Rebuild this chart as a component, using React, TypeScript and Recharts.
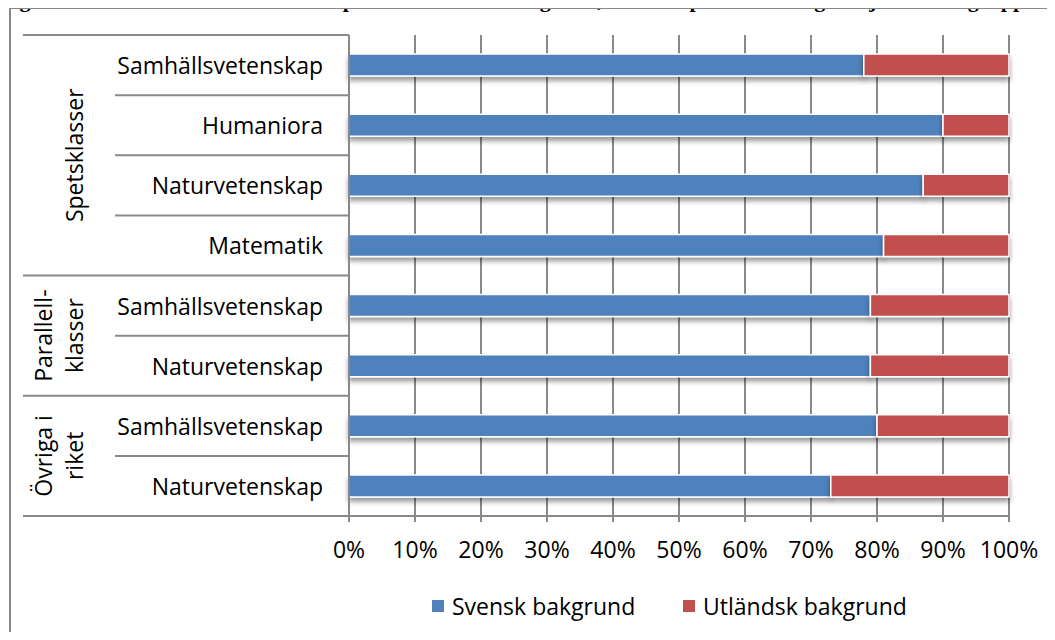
import { BarChart, Bar, XAxis, YAxis, CartesianGrid, Rectangle } from 'recharts';

// categories top to bottom, as in the figure
const categories = [
  'Samhällsvetenskap',
  'Humaniora',
  'Naturvetenskap',
  'Matematik',
  'Samhällsvetenskap',
  'Naturvetenskap',
  'Samhällsvetenskap',
  'Naturvetenskap',
];
const groupLabels = [['Spetsklasser'], ['Parallell-', 'klasser'], ['Övriga i', 'riket']];
const groupSizes = [4, 2, 2];
const svensk = [78, 90, 87, 81, 79, 79, 80, 73];
const utlandsk = [22, 10, 13, 19, 21, 21, 20, 27];
const xTicks = [0, 10, 20, 30, 40, 50, 60, 70, 80, 90, 100];
const seriesNames = ['Svensk bakgrund', 'Utländsk bakgrund'];
const title =
  'Figur 2. Andel elever med svensk respektive utländsk bakgrund, elever i spetsutbildning och jämförelsegrupper';

const BLUE = '#4F81BD';
const RED = '#C0504D';
const GRID = '#898989';
const FONT = '"Open Sans", sans-serif';

const W = 1055;
const H = 640;
const PLOT_LEFT = 349;
const PLOT_TOP = 35;
const PLOT_BOTTOM = 516;
const PLOT_RIGHT = 1009;
const Y_AXIS_W = 326;

const data = categories.map((name, i) => ({
  key: `c${i}`,
  name,
  svensk: svensk[i],
  utlandsk: utlandsk[i],
}));

// first row of each group
const groupStarts: number[] = [];
let acc = 0;
groupSizes.forEach((s) => {
  groupStarts.push(acc);
  acc += s;
});

const CategoryTick = (props: any) => {
  const { y, index } = props;
  const band = (PLOT_BOTTOM - PLOT_TOP) / categories.length;
  const top = y - band / 2;
  const gi = groupStarts.indexOf(index);
  const isLast = index === categories.length - 1;
  return (
    <g>
      <line x1={gi >= 0 ? 23 : 115} x2={PLOT_LEFT} y1={top} y2={top} stroke={GRID} strokeWidth={2} />
      {isLast && (
        <line x1={23} x2={PLOT_LEFT} y1={y + band / 2} y2={y + band / 2} stroke={GRID} strokeWidth={2} />
      )}
      <text x={323} y={y} textAnchor="end" dominantBaseline="central" fontSize={23} fontFamily={FONT} fill="#000">
        {categories[index]}
      </text>
      {gi >= 0 &&
        groupLabels[gi].map((line, li) => {
          const n = groupLabels[gi].length;
          const cx = 74 - (n - 1 - li) * 31;
          const cy = y + ((groupSizes[gi] - 1) * band) / 2;
          return (
            <text
              key={li}
              x={cx}
              y={cy}
              transform={`rotate(-90, ${cx}, ${cy})`}
              textAnchor="middle"
              dominantBaseline="central"
              fontSize={23}
              fontFamily={FONT}
              fill="#000"
            >
              {line}
            </text>
          );
        })}
    </g>
  );
};

const ShadowBar = (props: any) => <Rectangle {...props} filter="url(#barShadow)" />;

export default function App() {
  return (
    <div style={{ position: 'relative', width: W, height: H, margin: -8, overflow: 'hidden', background: '#fff' }}>
      <div
        style={{
          position: 'absolute',
          left: 0,
          top: -11,
          lineHeight: '22px',
          fontFamily: '"Liberation Serif", serif',
          fontWeight: 'bold',
          fontSize: 22,
          whiteSpace: 'nowrap',
        }}
      >
        {title}
      </div>
      <div
        style={{
          position: 'absolute',
          left: 9,
          top: 7,
          width: 1200,
          height: 800,
          border: `2px solid ${GRID}`,
        }}
      />
      <div style={{ position: 'absolute', left: 0, top: 0 }}>
        <BarChart
          width={W}
          height={H}
          data={data}
          layout="vertical"
          barSize={22}
          margin={{ top: PLOT_TOP, right: W - PLOT_RIGHT, bottom: H - PLOT_BOTTOM - 60, left: PLOT_LEFT - Y_AXIS_W }}
        >
          <defs>
            <filter id="barShadow" x="-5%" y="-30%" width="110%" height="190%">
              <feDropShadow dx="0" dy="4" stdDeviation="2.5" floodColor="#000" floodOpacity="0.4" />
            </filter>
          </defs>
          <CartesianGrid horizontal={false} stroke={GRID} strokeWidth={2} />
          <XAxis
            type="number"
            domain={[0, 100]}
            ticks={xTicks}
            tickFormatter={(v) => `${v}%`}
            height={60}
            axisLine={{ stroke: GRID, strokeWidth: 2 }}
            tickLine={{ stroke: GRID, strokeWidth: 2 }}
            tickSize={6}
            tickMargin={20}
            tick={{ fontSize: 23, fontFamily: FONT, fill: '#000' }}
            interval={0}
          />
          <YAxis
            type="category"
            dataKey="key"
            width={Y_AXIS_W}
            axisLine={{ stroke: GRID, strokeWidth: 2 }}
            tickLine={false}
            tick={<CategoryTick />}
            interval={0}
          />
          <Bar
            dataKey="svensk"
            name={seriesNames[0]}
            stackId="a"
            fill={BLUE}
            stroke="#fff"
            strokeWidth={1.5}
            shape={ShadowBar}
            isAnimationActive={false}
          />
          <Bar
            dataKey="utlandsk"
            name={seriesNames[1]}
            stackId="a"
            fill={RED}
            stroke="#fff"
            strokeWidth={1.5}
            shape={ShadowBar}
            isAnimationActive={false}
          />
        </BarChart>
      </div>
      <div style={{ position: 'absolute', top: 590, left: 0, width: W, fontFamily: FONT, fontSize: 23 }}>
        {seriesNames.map((n, i) => (
          <div
            key={n}
            style={{ position: 'absolute', left: i === 0 ? 432 : 683, display: 'flex', alignItems: 'center' }}
          >
            <span
              style={{ width: 12, height: 12, background: i === 0 ? BLUE : RED, display: 'inline-block', marginRight: 8 }}
            />
            <span>{n}</span>
          </div>
        ))}
      </div>
    </div>
  );
}
